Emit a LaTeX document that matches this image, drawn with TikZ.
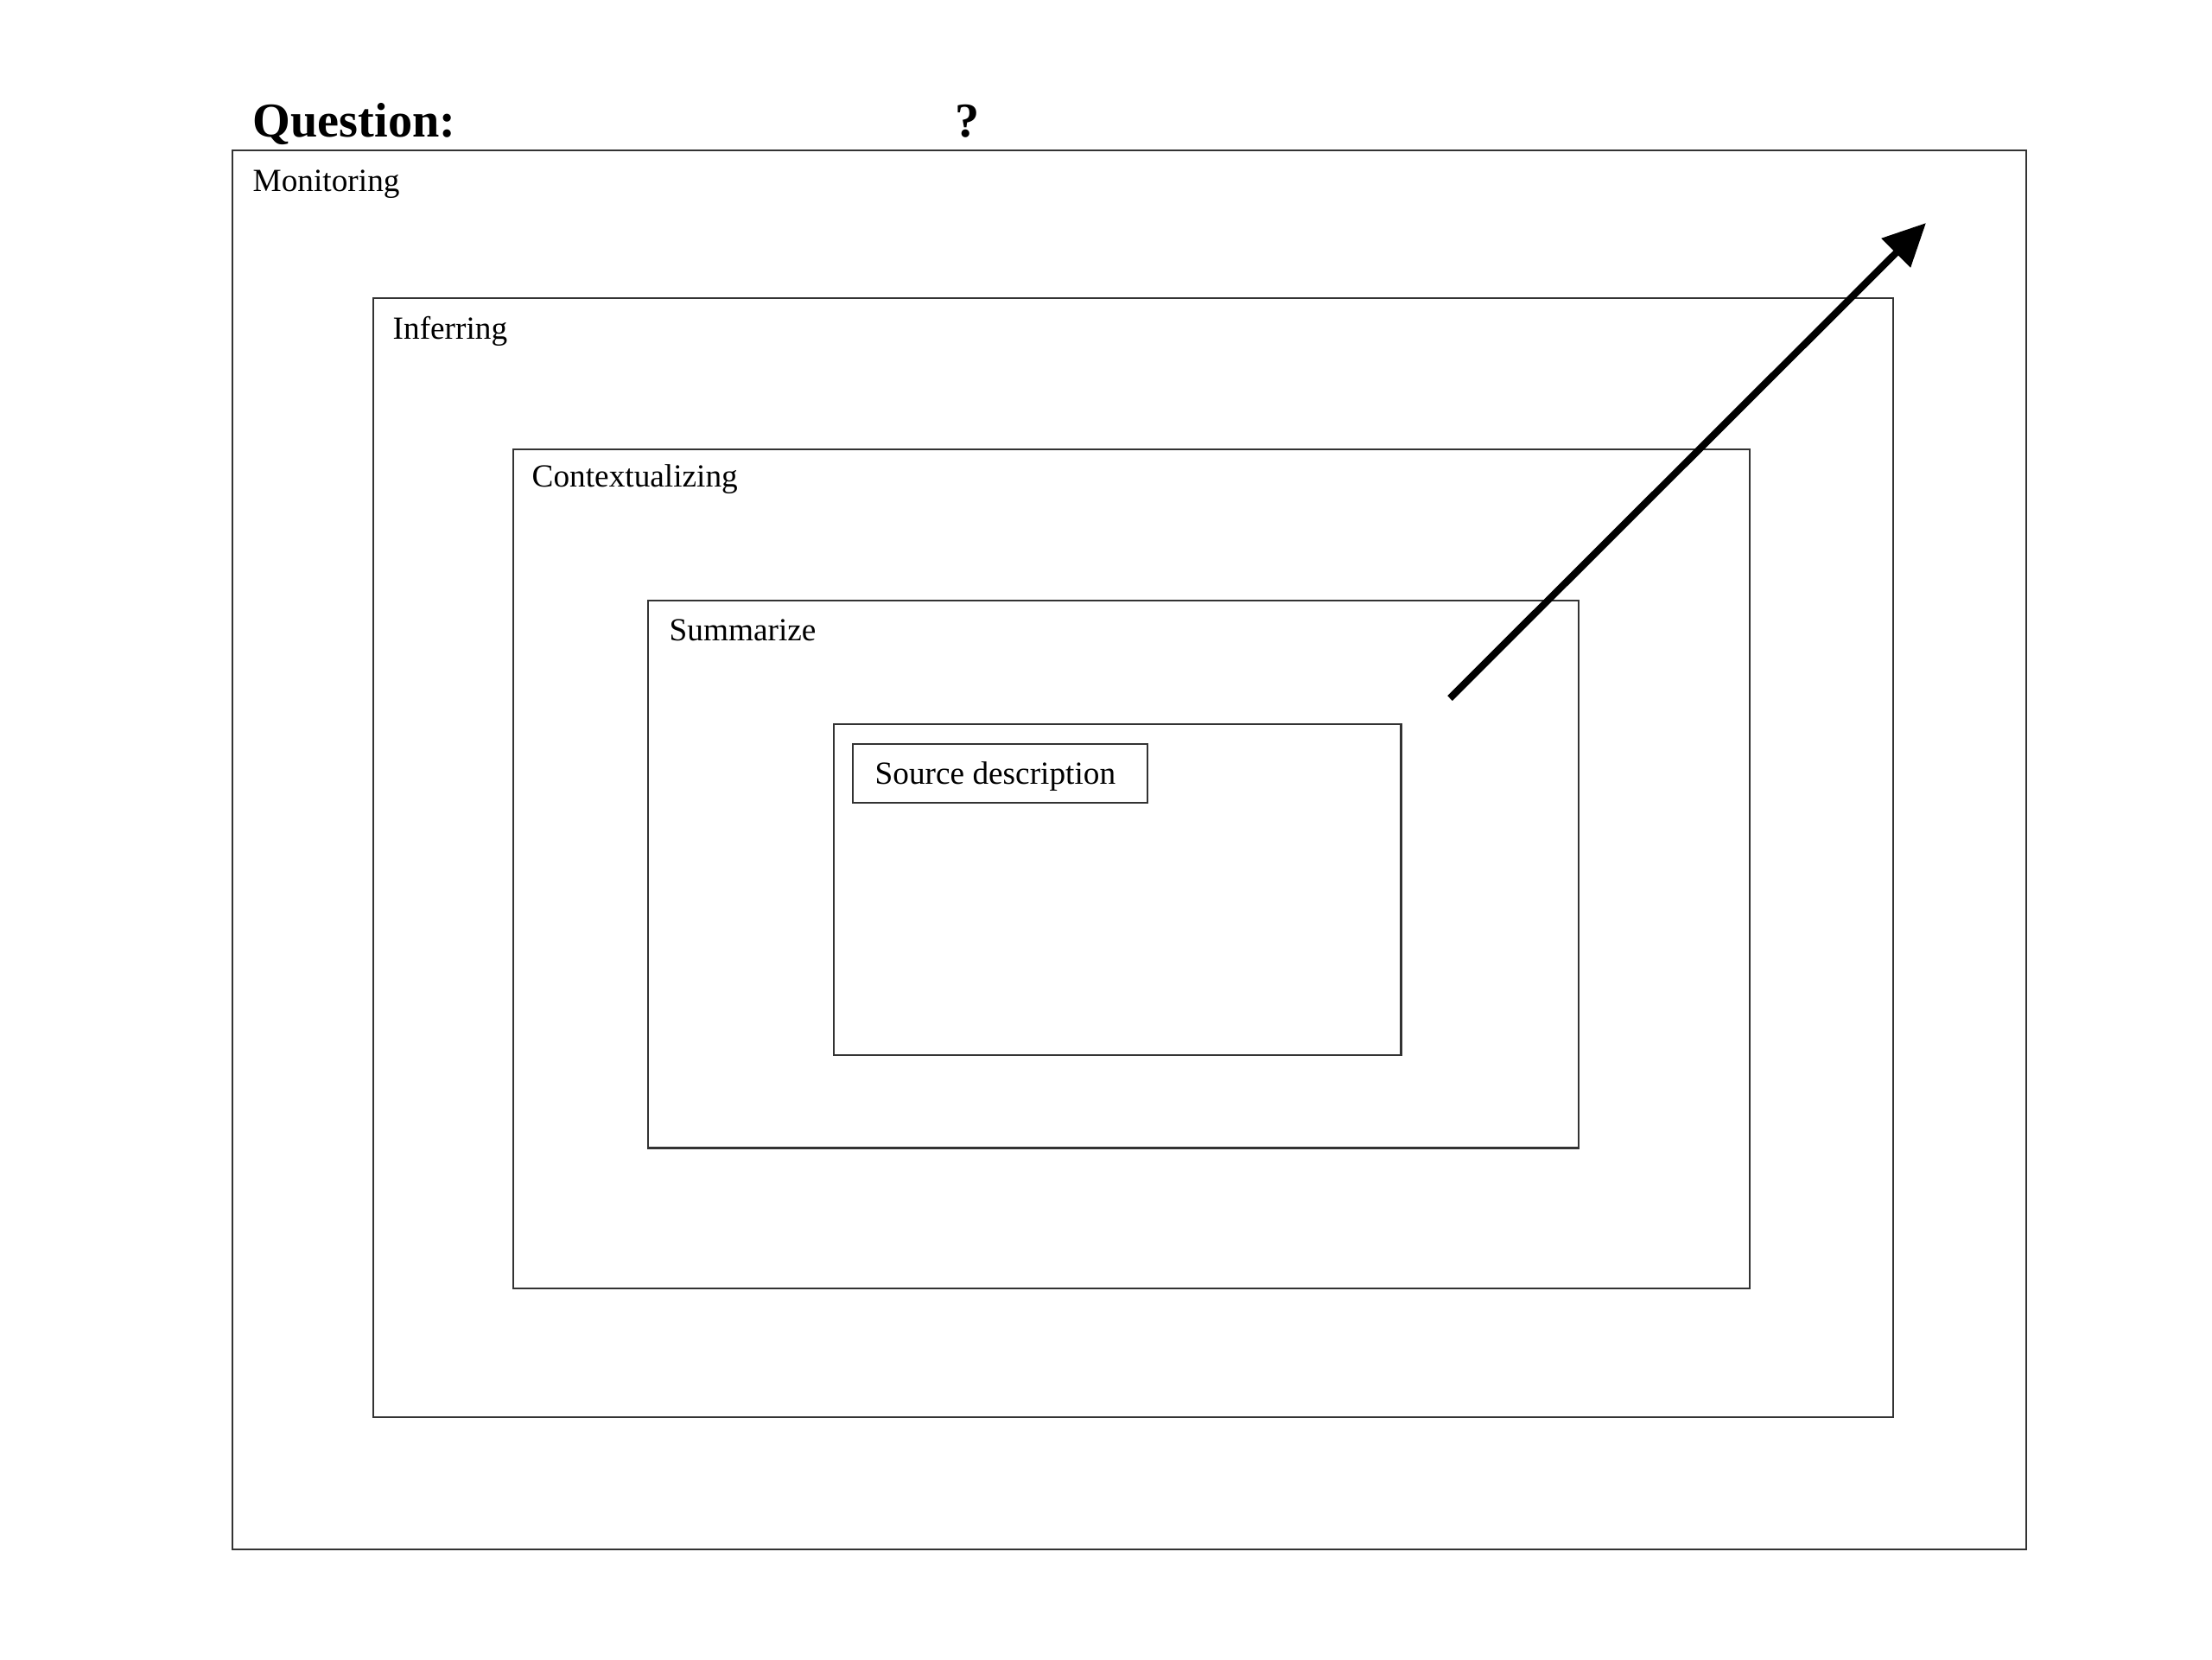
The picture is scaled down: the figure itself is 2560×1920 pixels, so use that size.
\documentclass[tikz,border=0pt]{standalone}
\usepackage{fontspec}
\setmainfont{Liberation Serif}
\usetikzlibrary{arrows.meta}
\begin{document}
\begin{tikzpicture}[x=0.01cm,y=-0.01cm,
  box/.style={draw=black!80, line width=0.6pt, inner sep=0pt, anchor=north west},
  lbl/.style={anchor=base west, inner sep=0pt, font=\fontsize{10.6}{12}\selectfont},
  ttl/.style={anchor=base west, inner sep=0pt, font=\fontsize{16}{18}\selectfont\bfseries}]
\useasboundingbox (0,0) rectangle (2560,1920);
\fill[white] (0,0) rectangle (2560,1920);
% boxes
\node[box, minimum width=20.75cm, minimum height=16.18cm] (monitoring) at (268,173) {};
\node[box, minimum width=17.58cm, minimum height=12.94cm] (inferring) at (431,344) {};
\node[box, minimum width=14.30cm, minimum height=9.70cm] (context) at (593,519) {};
\node[box, minimum width=10.76cm, minimum height=6.33cm] (summ) at (749,694) {};
\node[box, minimum width=6.56cm, minimum height=3.83cm] (inner) at (964,837) {};
\node[box, minimum width=3.41cm, minimum height=0.68cm] (srcbox) at (986,860) {};
% labels
\node[ttl] (question) at (292,158) {Question:};
\node[ttl, anchor=base] (qmark) at (1120,158) {?};
\node[lbl] (lmon) at (292,221) {Monitoring};
\node[lbl] (linf) at (454,392) {Inferring};
\node[lbl] (lctx) at (615,563) {Contextualizing};
\node[lbl] (lsum) at (774,741) {Summarize};
\node[lbl] (lsrc) at (1012,907) {Source description};
% arrow
\coordinate (astart) at (1678,808);
\coordinate (aend) at (2229,258);
\draw[line width=2.3pt, -{Triangle[length=14pt, width=13pt]}] (astart) -- (aend);
\end{tikzpicture}
\end{document}
